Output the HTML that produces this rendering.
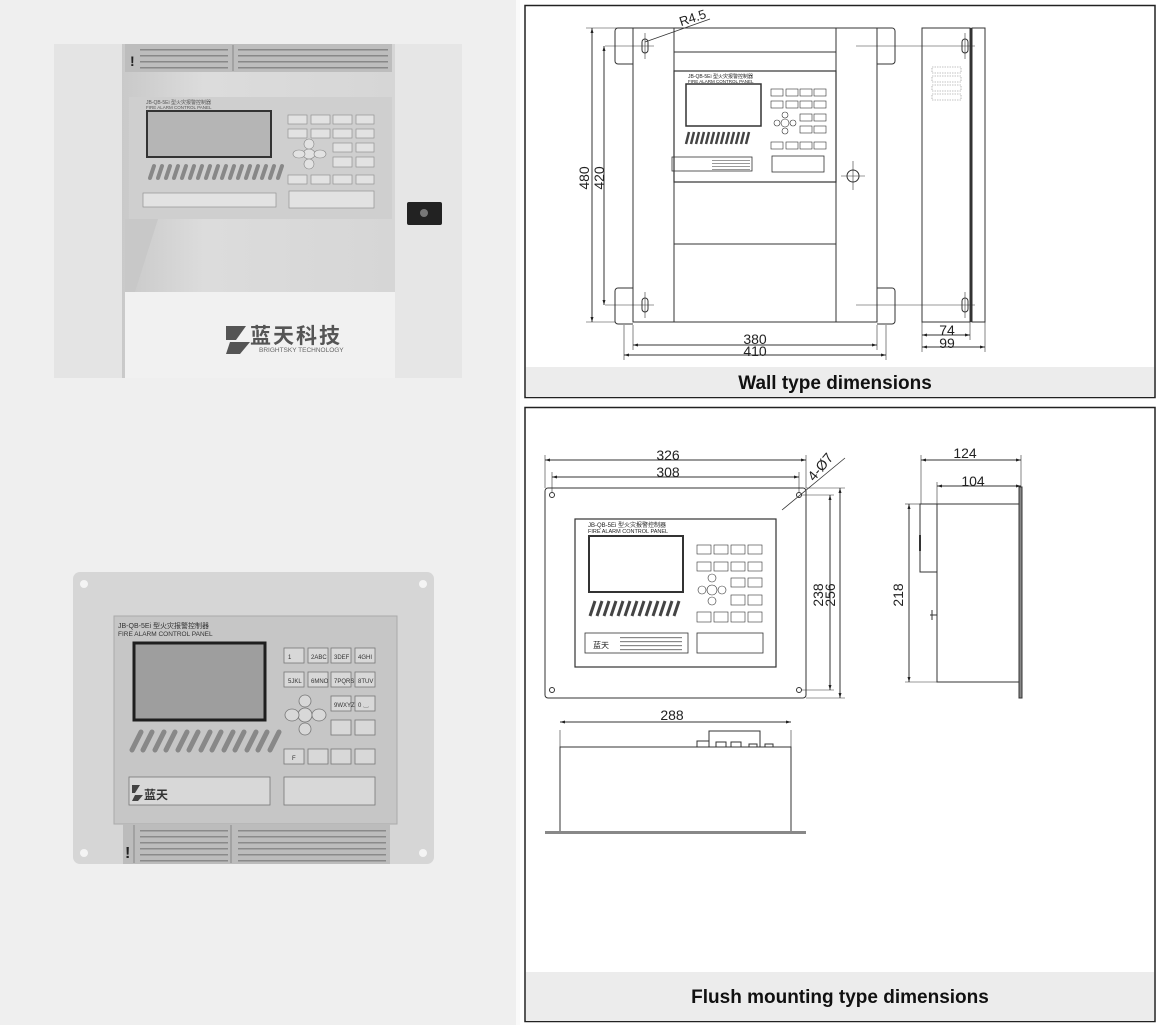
<!DOCTYPE html>
<html><head><meta charset="utf-8"><style>
html,body{margin:0;padding:0;background:#fff;}
svg{display:block;}
text{font-family:"Liberation Sans","Noto Sans CJK SC",sans-serif;}
</style></head><body>
<svg width="1157" height="1025" viewBox="0 0 1157 1025" xmlns="http://www.w3.org/2000/svg">
<defs>
<marker id="a" viewBox="0 0 10 10" refX="10" refY="5" markerWidth="7" markerHeight="5" orient="auto-start-reverse"><path d="M0,2 L10,5 L0,8z" fill="#222"/></marker>
<linearGradient id="rec" x1="0" y1="0" x2="1" y2="0"><stop offset="0" stop-color="#c9c9c9"/><stop offset="0.3" stop-color="#dcdcdc"/><stop offset="1" stop-color="#d6d6d6"/></linearGradient>
</defs>
<rect x="0" y="0" width="516" height="1025" fill="#efefef"/>
<rect x="516" y="0" width="4" height="1025" fill="#fafafa"/>

<!-- TOP PHOTO -->
<rect x="54" y="44" width="408" height="334" fill="#e8e8e8"/>
<rect x="54" y="44" width="68" height="334" fill="#e4e4e4"/>
<rect x="395" y="44" width="67" height="334" fill="#e6e6e6"/>
<rect x="122" y="44" width="273" height="334" fill="url(#rec)"/>
<rect x="125" y="44" width="267" height="28" fill="#bdbdbd"/>
<line x1="233" y1="45" x2="233" y2="71" stroke="#888"/>
<text x="130" y="66" font-size="14" font-weight="bold" fill="#222">!</text>
<g fill="#888"><rect x="140" y="49" width="88" height="1.5"/><rect x="140" y="55" width="88" height="1.5"/><rect x="140" y="61" width="88" height="1.5"/><rect x="140" y="67" width="88" height="1.5"/>
<rect x="238" y="49" width="150" height="1.5"/><rect x="238" y="55" width="150" height="1.5"/><rect x="238" y="61" width="150" height="1.5"/><rect x="238" y="67" width="150" height="1.5"/></g>
<rect x="129" y="97" width="263" height="122" fill="#cfcfcf"/>
<text x="146" y="104" font-size="5" fill="#555">JB-QB-5Ei 型火灾报警控制器</text>
<text x="146" y="109" font-size="4.5" fill="#555">FIRE ALARM CONTROL PANEL</text>
<rect x="147" y="111" width="124" height="46" fill="#b5b5b5" stroke="#333" stroke-width="2"/>
<g fill="#e2e2e2" stroke="#888" stroke-width="0.6">
<rect x="288" y="115" width="19" height="9"/><rect x="311" y="115" width="19" height="9"/><rect x="333" y="115" width="19" height="9"/><rect x="356" y="115" width="18" height="9"/>
<rect x="288" y="129" width="19" height="9"/><rect x="311" y="129" width="19" height="9"/><rect x="333" y="129" width="19" height="9"/><rect x="356" y="129" width="18" height="9"/>
<rect x="333" y="143" width="19" height="9"/><rect x="356" y="143" width="18" height="9"/>
<rect x="333" y="157" width="19" height="10"/><rect x="356" y="157" width="18" height="10"/>
<rect x="288" y="175" width="19" height="9"/><rect x="311" y="175" width="19" height="9"/><rect x="333" y="175" width="19" height="9"/><rect x="356" y="175" width="18" height="9"/>
<ellipse cx="309" cy="154" rx="6" ry="5"/><ellipse cx="299" cy="154" rx="6" ry="4"/><ellipse cx="320" cy="154" rx="6" ry="4"/><ellipse cx="309" cy="144" rx="5" ry="5"/><ellipse cx="309" cy="164" rx="5" ry="5"/>
<rect x="143" y="193" width="133" height="14"/><rect x="289" y="191" width="85" height="17"/>
</g>
<g stroke="#888" stroke-width="4" stroke-linecap="round">
<path d="M150,178 l4,-12 M158,178 l4,-12 M166,178 l4,-12 M174,178 l4,-12 M182,178 l4,-12 M190,178 l4,-12 M198,178 l4,-12 M206,178 l4,-12 M214,178 l4,-12 M222,178 l4,-12 M230,178 l4,-12 M238,178 l4,-12 M246,178 l4,-12 M254,178 l4,-12 M262,178 l4,-12 M270,178 l4,-12 M278,178 l4,-12"/>
</g>
<rect x="125" y="292" width="270" height="86" fill="#f1f1f1"/>
<polygon points="125,219 158,219 135,292 125,292" fill="#c8c8c8"/>
<rect x="407" y="202" width="35" height="23" fill="#222" rx="2"/>
<circle cx="424" cy="213" r="4" fill="#777"/>
<g fill="#555"><polygon points="226,326 246,326 236,340 226,340"/><polygon points="230,342 250,342 240,354 226,354"/></g>
<text x="250" y="343" font-size="21" font-weight="bold" fill="#555" letter-spacing="2">蓝天科技</text>
<text x="259" y="352" font-size="6.5" fill="#666">BRIGHTSKY TECHNOLOGY</text>

<!-- BOTTOM PHOTO -->
<rect x="73" y="572" width="361" height="292" rx="7" fill="#d6d6d6"/>
<g fill="#f4f4f4"><circle cx="84" cy="584" r="4"/><circle cx="423" cy="584" r="4"/><circle cx="84" cy="853" r="4"/><circle cx="423" cy="853" r="4"/></g>
<rect x="114" y="616" width="283" height="208" fill="#c6c6c6" stroke="#aaa"/>
<text x="118" y="628" font-size="7" fill="#333">JB-QB-5Ei 型火灾报警控制器</text>
<text x="118" y="636" font-size="6.5" fill="#333">FIRE ALARM CONTROL PANEL</text>
<rect x="134" y="643" width="131" height="77" fill="#9e9e9e" stroke="#1e1e1e" stroke-width="3"/>
<g fill="#d8d8d8" stroke="#777" stroke-width="0.8" font-size="6">
<rect x="284" y="648" width="20" height="15"/><rect x="308" y="648" width="20" height="15"/><rect x="331" y="648" width="20" height="15"/><rect x="355" y="648" width="20" height="15"/>
<rect x="284" y="672" width="20" height="15"/><rect x="308" y="672" width="20" height="15"/><rect x="331" y="672" width="20" height="15"/><rect x="355" y="672" width="20" height="15"/>
<rect x="331" y="696" width="20" height="15"/><rect x="355" y="696" width="20" height="15"/>
<rect x="331" y="720" width="20" height="15"/><rect x="355" y="720" width="20" height="15"/>
<rect x="284" y="749" width="20" height="15"/><rect x="308" y="749" width="20" height="15"/><rect x="331" y="749" width="20" height="15"/><rect x="355" y="749" width="20" height="15"/>
<ellipse cx="305" cy="715" rx="7" ry="7"/><ellipse cx="292" cy="715" rx="7" ry="6"/><ellipse cx="319" cy="715" rx="7" ry="6"/><ellipse cx="305" cy="701" rx="6" ry="6"/><ellipse cx="305" cy="729" rx="6" ry="6"/>
<rect x="129" y="777" width="141" height="28"/><rect x="284" y="777" width="91" height="28"/>
</g>
<g font-size="6" fill="#333">
<text x="288" y="659">1</text><text x="311" y="659">2ABC</text><text x="334" y="659">3DEF</text><text x="358" y="659">4GHI</text>
<text x="288" y="683">5JKL</text><text x="311" y="683">6MNO</text><text x="334" y="683">7PQRS</text><text x="358" y="683">8TUV</text>
<text x="334" y="707">9WXYZ</text><text x="358" y="707">0 ␣</text>
<text x="292" y="760">F</text>
</g>
<g stroke="#888" stroke-width="5" stroke-linecap="round">
<path d="M132,750 l9,-18 M143,750 l9,-18 M155,750 l9,-18 M166,750 l9,-18 M178,750 l9,-18 M189,750 l9,-18 M201,750 l9,-18 M212,750 l9,-18 M224,750 l9,-18 M235,750 l9,-18 M247,750 l9,-18 M258,750 l9,-18 M270,750 l9,-18"/>
</g>
<g fill="#444"><polygon points="132,785 140,785 135,793 132,793"/><polygon points="135,795 143,795 138,801 132,801"/></g>
<text x="144" y="799" font-size="12" font-weight="bold" fill="#333">蓝天</text>
<rect x="123" y="824" width="267" height="40" fill="#bcbcbc"/>
<line x1="134" y1="825" x2="134" y2="863" stroke="#888"/><line x1="231" y1="825" x2="231" y2="863" stroke="#888"/>
<text x="125" y="858" font-size="16" font-weight="bold" fill="#222">!</text>
<g fill="#8a8a8a"><rect x="140" y="830" width="88" height="1.5"/><rect x="140" y="836" width="88" height="1.5"/><rect x="140" y="842" width="88" height="1.5"/><rect x="140" y="848" width="88" height="1.5"/><rect x="140" y="854" width="88" height="1.5"/><rect x="140" y="860" width="88" height="1.5"/>
<rect x="238" y="830" width="148" height="1.5"/><rect x="238" y="836" width="148" height="1.5"/><rect x="238" y="842" width="148" height="1.5"/><rect x="238" y="848" width="148" height="1.5"/><rect x="238" y="854" width="148" height="1.5"/><rect x="238" y="860" width="148" height="1.5"/></g>

<!-- RIGHT TOP BOX -->
<rect x="520" y="0" width="637" height="1025" fill="#fff"/>
<rect x="525" y="5.5" width="630" height="392" fill="#fff" stroke="#222" stroke-width="1.5"/>
<rect x="526" y="367" width="628" height="30" fill="#ececec"/>
<text x="835" y="389" font-size="19" font-weight="bold" text-anchor="middle" fill="#111">Wall type dimensions</text>
<g fill="none" stroke="#333" stroke-width="1">
<rect x="633" y="28" width="244" height="294"/>
<line x1="674" y1="28" x2="674" y2="322"/><line x1="836" y1="28" x2="836" y2="322"/>
<line x1="674" y1="52" x2="836" y2="52"/><line x1="674" y1="244" x2="836" y2="244"/>
<path d="M633,28 h-15 a3,3 0 0 0 -3,3 v30 a3,3 0 0 0 3,3 h15"/>
<path d="M633,288 h-15 a3,3 0 0 0 -3,3 v30 a3,3 0 0 0 3,3 h15"/>
<path d="M877,28 h15 a3,3 0 0 1 3,3 v30 a3,3 0 0 1 -3,3 h-15"/>
<path d="M877,288 h15 a3,3 0 0 1 3,3 v30 a3,3 0 0 1 -3,3 h-15"/>
<rect x="642" y="39" width="6" height="14" rx="3"/><rect x="962" y="39" width="6" height="14" rx="3"/>
<rect x="642" y="298" width="6" height="14" rx="3"/><rect x="962" y="298" width="6" height="14" rx="3"/>
<line x1="645" y1="33" x2="645" y2="59" stroke-width="0.6"/><line x1="605" y1="46" x2="654" y2="46" stroke-width="0.6"/>
<line x1="965" y1="33" x2="965" y2="59" stroke-width="0.6"/><line x1="856" y1="46" x2="975" y2="46" stroke-width="0.6"/>
<line x1="645" y1="292" x2="645" y2="318" stroke-width="0.6"/><line x1="605" y1="305" x2="654" y2="305" stroke-width="0.6"/>
<line x1="965" y1="292" x2="965" y2="318" stroke-width="0.6"/><line x1="856" y1="305" x2="975" y2="305" stroke-width="0.6"/>
<circle cx="853" cy="176" r="6"/><line x1="841" y1="176" x2="865" y2="176" stroke-width="0.6"/><line x1="853" y1="161" x2="853" y2="190" stroke-width="0.6"/>
<rect x="674" y="71" width="162" height="111" stroke-width="1.2"/>
<rect x="686" y="84" width="75" height="42" stroke-width="1.5"/>
<rect x="672" y="157" width="80" height="14" stroke-width="0.8"/>
<rect x="772" y="156" width="52" height="16" stroke-width="0.8"/>
<rect x="922" y="28" width="48" height="294"/>
<line x1="971" y1="28" x2="971" y2="322"/>
<rect x="972" y="28" width="13" height="294"/>
<line x1="592" y1="28" x2="592" y2="322" marker-start="url(#a)" marker-end="url(#a)"/>
<line x1="586" y1="28" x2="633" y2="28" stroke-width="0.6"/><line x1="586" y1="322" x2="615" y2="322" stroke-width="0.6"/>
<line x1="604" y1="46" x2="604" y2="305" marker-start="url(#a)" marker-end="url(#a)"/>
<line x1="633" y1="325" x2="633" y2="350" stroke-width="0.6"/><line x1="877" y1="325" x2="877" y2="350" stroke-width="0.6"/>
<line x1="624" y1="325" x2="624" y2="360" stroke-width="0.6"/><line x1="886" y1="325" x2="886" y2="360" stroke-width="0.6"/>
<line x1="633" y1="345" x2="877" y2="345" marker-start="url(#a)" marker-end="url(#a)"/>
<line x1="624" y1="355" x2="886" y2="355" marker-start="url(#a)" marker-end="url(#a)"/>
<line x1="922" y1="322" x2="922" y2="352" stroke-width="0.6"/><line x1="970" y1="322" x2="970" y2="340" stroke-width="0.6"/><line x1="985" y1="322" x2="985" y2="352" stroke-width="0.6"/>
<line x1="922" y1="335" x2="970" y2="335" marker-start="url(#a)" marker-end="url(#a)"/>
<line x1="922" y1="347" x2="985" y2="347" marker-start="url(#a)" marker-end="url(#a)"/>
<line x1="645" y1="42" x2="710" y2="19" stroke-width="0.8"/>
</g>
<g fill="none" stroke="#888" stroke-width="0.6" stroke-dasharray="1.5,1">
<rect x="932" y="67" width="29" height="6"/><rect x="932" y="76" width="29" height="6"/><rect x="932" y="85" width="29" height="6"/><rect x="932" y="94" width="29" height="6"/>
</g>
<g fill="none" stroke="#333" stroke-width="0.6">
<rect x="771" y="89" width="12" height="7"/><rect x="786" y="89" width="12" height="7"/><rect x="800" y="89" width="12" height="7"/><rect x="814" y="89" width="12" height="7"/>
<rect x="771" y="101" width="12" height="7"/><rect x="786" y="101" width="12" height="7"/><rect x="800" y="101" width="12" height="7"/><rect x="814" y="101" width="12" height="7"/>
<rect x="800" y="114" width="12" height="7"/><rect x="814" y="114" width="12" height="7"/>
<rect x="800" y="126" width="12" height="7"/><rect x="814" y="126" width="12" height="7"/>
<rect x="771" y="142" width="12" height="7"/><rect x="786" y="142" width="12" height="7"/><rect x="800" y="142" width="12" height="7"/><rect x="814" y="142" width="12" height="7"/>
<circle cx="785" cy="123" r="4"/><circle cx="777" cy="123" r="3"/><circle cx="793" cy="123" r="3"/><circle cx="785" cy="115" r="3"/><circle cx="785" cy="131" r="3"/>
</g>
<g stroke="#444" stroke-width="2.5"><path d="M686,144 l3,-12 M691,144 l3,-12 M696,144 l3,-12 M701,144 l3,-12 M706,144 l3,-12 M711,144 l3,-12 M716,144 l3,-12 M721,144 l3,-12 M726,144 l3,-12 M731,144 l3,-12 M736,144 l3,-12 M741,144 l3,-12 M746,144 l3,-12"/></g>
<g fill="#999"><rect x="712" y="160" width="38" height="1"/><rect x="712" y="163" width="38" height="1"/><rect x="712" y="166" width="38" height="1"/><rect x="712" y="169" width="38" height="1"/></g>
<text x="688" y="78" font-size="5" fill="#222">JB-QB-5Ei 型火灾报警控制器</text>
<text x="688" y="83" font-size="4.5" fill="#222">FIRE ALARM CONTROL PANEL</text>
<g font-size="14" fill="#222">
<text transform="translate(589,178) rotate(-90)" text-anchor="middle">480</text>
<text transform="translate(604,178) rotate(-90)" text-anchor="middle">420</text>
<text x="755" y="344" text-anchor="middle">380</text>
<text x="755" y="356" text-anchor="middle">410</text>
<text x="947" y="335" text-anchor="middle">74</text>
<text x="947" y="348" text-anchor="middle">99</text>
<text transform="translate(694,22) rotate(-18)" text-anchor="middle" font-size="13">R4.5</text>
</g>

<!-- RIGHT BOTTOM BOX -->
<rect x="525" y="407.5" width="630" height="614" fill="#fff" stroke="#222" stroke-width="1.5"/>
<rect x="526" y="972" width="628" height="49" fill="#ececec"/>
<text x="840" y="1003" font-size="19" font-weight="bold" text-anchor="middle" fill="#111">Flush mounting type dimensions</text>
<g fill="none" stroke="#333" stroke-width="1">
<rect x="545" y="488" width="261" height="210" rx="3"/>
<circle cx="552" cy="495" r="2.5"/><circle cx="799" cy="495" r="2.5"/><circle cx="552" cy="690" r="2.5"/><circle cx="799" cy="690" r="2.5"/>
<rect x="575" y="519" width="201" height="148" stroke-width="1.2"/>
<rect x="589" y="536" width="94" height="56" stroke-width="2"/>
<rect x="585" y="633" width="103" height="20" stroke-width="0.8"/>
<rect x="697" y="633" width="66" height="20" stroke-width="0.8"/>
<line x1="545" y1="460" x2="806" y2="460" marker-start="url(#a)" marker-end="url(#a)"/>
<line x1="552" y1="477" x2="799" y2="477" marker-start="url(#a)" marker-end="url(#a)"/>
<line x1="545" y1="455" x2="545" y2="488" stroke-width="0.6"/><line x1="806" y1="455" x2="806" y2="488" stroke-width="0.6"/>
<line x1="552" y1="472" x2="552" y2="492" stroke-width="0.6"/><line x1="799" y1="472" x2="799" y2="492" stroke-width="0.6"/>
<line x1="782" y1="510" x2="845" y2="458" stroke-width="0.8"/>
<line x1="806" y1="488" x2="845" y2="488" stroke-width="0.6"/><line x1="806" y1="698" x2="845" y2="698" stroke-width="0.6"/>
<line x1="801" y1="495" x2="834" y2="495" stroke-width="0.6"/><line x1="801" y1="690" x2="834" y2="690" stroke-width="0.6"/>
<line x1="840" y1="488" x2="840" y2="698" marker-start="url(#a)" marker-end="url(#a)"/>
<line x1="830" y1="495" x2="830" y2="690" marker-start="url(#a)" marker-end="url(#a)"/>
<rect x="937" y="504" width="82" height="178"/>
<rect x="920" y="504" width="17" height="68"/>
<rect x="1019" y="487" width="3" height="211" fill="#888"/>
<line x1="920" y1="535" x2="920" y2="551" stroke-width="2"/>
<line x1="932" y1="610" x2="932" y2="620"/><line x1="930" y1="615" x2="937" y2="615"/>
<line x1="909" y1="504" x2="909" y2="682" marker-start="url(#a)" marker-end="url(#a)"/>
<line x1="905" y1="504" x2="920" y2="504" stroke-width="0.6"/><line x1="905" y1="682" x2="937" y2="682" stroke-width="0.6"/>
<line x1="921" y1="460" x2="1021" y2="460" marker-start="url(#a)" marker-end="url(#a)"/>
<line x1="937" y1="486" x2="1021" y2="486" marker-start="url(#a)" marker-end="url(#a)"/>
<line x1="921" y1="455" x2="921" y2="504" stroke-width="0.6"/><line x1="1021" y1="455" x2="1021" y2="487" stroke-width="0.6"/>
<line x1="937" y1="482" x2="937" y2="504" stroke-width="0.6"/>
<rect x="560" y="747" width="231" height="85"/>
<line x1="560" y1="730" x2="560" y2="747" stroke-width="0.6"/><line x1="791" y1="730" x2="791" y2="747" stroke-width="0.6"/>
<rect x="709" y="731" width="51" height="16"/>
<rect x="716" y="742" width="10" height="5"/><rect x="731" y="742" width="10" height="5"/><rect x="749" y="744" width="8" height="3"/><rect x="765" y="744" width="8" height="3"/>
<rect x="697" y="741" width="12" height="6"/>
<line x1="560" y1="722" x2="791" y2="722" marker-start="url(#a)" marker-end="url(#a)"/>
</g>
<rect x="545" y="831" width="261" height="3" fill="#888"/>
<g fill="none" stroke="#333" stroke-width="0.6">
<rect x="697" y="545" width="14" height="9"/><rect x="714" y="545" width="14" height="9"/><rect x="731" y="545" width="14" height="9"/><rect x="748" y="545" width="14" height="9"/>
<rect x="697" y="562" width="14" height="9"/><rect x="714" y="562" width="14" height="9"/><rect x="731" y="562" width="14" height="9"/><rect x="748" y="562" width="14" height="9"/>
<rect x="731" y="578" width="14" height="9"/><rect x="748" y="578" width="14" height="9"/>
<rect x="731" y="595" width="14" height="10"/><rect x="748" y="595" width="14" height="10"/>
<rect x="697" y="612" width="14" height="10"/><rect x="714" y="612" width="14" height="10"/><rect x="731" y="612" width="14" height="10"/><rect x="748" y="612" width="14" height="10"/>
<circle cx="712" cy="590" r="5"/><circle cx="702" cy="590" r="4"/><circle cx="722" cy="590" r="4"/><circle cx="712" cy="578" r="4"/><circle cx="712" cy="601" r="4"/>
</g>
<g stroke="#444" stroke-width="3"><path d="M590,616 l5,-15 M597,616 l5,-15 M604,616 l5,-15 M611,616 l5,-15 M618,616 l5,-15 M625,616 l5,-15 M632,616 l5,-15 M639,616 l5,-15 M646,616 l5,-15 M653,616 l5,-15 M660,616 l5,-15 M667,616 l5,-15 M674,616 l5,-15"/></g>
<g fill="#888"><rect x="620" y="637" width="62" height="1.2"/><rect x="620" y="641" width="62" height="1.2"/><rect x="620" y="645" width="62" height="1.2"/><rect x="620" y="649" width="62" height="1.2"/></g>
<text x="588" y="527" font-size="6" fill="#222">JB-QB-5Ei 型火灾报警控制器</text>
<text x="588" y="533" font-size="5.5" fill="#222">FIRE ALARM CONTROL PANEL</text>
<text x="593" y="648" font-size="8" fill="#222">蓝天</text>
<g font-size="14" fill="#222">
<text x="668" y="460" text-anchor="middle">326</text>
<text x="668" y="477" text-anchor="middle">308</text>
<text x="965" y="458" text-anchor="middle">124</text>
<text x="973" y="486" text-anchor="middle">104</text>
<text x="672" y="720" text-anchor="middle">288</text>
<text transform="translate(823,595) rotate(-90)" text-anchor="middle">238</text>
<text transform="translate(835,595) rotate(-90)" text-anchor="middle">256</text>
<text transform="translate(903,595) rotate(-90)" text-anchor="middle">218</text>
<text transform="translate(824,470) rotate(-50)" text-anchor="middle">4-Ø7</text>
</g>
</svg>
</body></html>
